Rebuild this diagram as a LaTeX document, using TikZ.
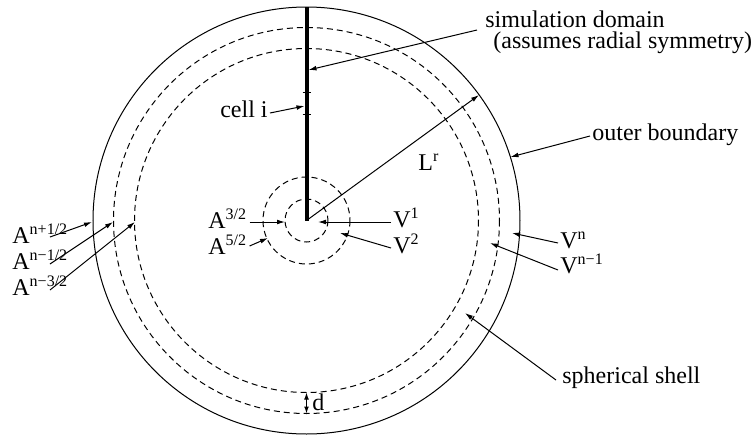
\documentclass[tikz,border=0pt]{standalone}
\usepackage{fontspec}
\setmainfont{Liberation Serif}
\usetikzlibrary{arrows.meta}
\tikzstyle{arrow} = [line width=0.5pt, -{Latex[length=4pt,width=2.4pt]}]
\tikzstyle{dimarrow} = [line width=0.5pt, {Latex[length=3.5pt,width=2.4pt]}-{Latex[length=3.5pt,width=2.4pt]}]
\tikzstyle{shell} = [line width=0.5pt, dash pattern=on 3pt off 2pt]
\tikzstyle{boundary} = [line width=0.5pt]
\tikzstyle{lbl} = [inner sep=0pt, anchor=base west]

\begin{document}
\begin{tikzpicture}[x=0.5pt, y=-0.5pt, font=\fontsize{12}{10.5}\selectfont]
    \useasboundingbox (0,0) rectangle (752,435);
    \coordinate (ctr) at (306.5,220.5);
    \coordinate (top) at (306.5,7);

    % sphere and shells
    \draw [boundary] (ctr) circle [radius=213.5];
    \draw [shell] (ctr) circle [radius=193];
    \draw [shell] (ctr) circle [radius=172];
    \draw [shell] (ctr) circle [radius=43.5];
    \draw [shell] (ctr) circle [radius=21.5];

    % simulation domain with cell marks
    \draw [line width=2pt] (ctr) -- (top);
    \foreach \y in {92,114}
        \draw [boundary] (302.5,\y) -- (310.5,\y);

    % arrow tips
    \coordinate (simtip) at (308.5,70);
    \coordinate (celltip) at (304.5,106);
    \coordinate (Lrtip) at (479,95);
    \coordinate (outertip) at (510.5,157);
    \coordinate (Vntip) at (512,233);
    \coordinate (Vnmtip) at (490,243);
    \coordinate (V1tip) at (318,222);
    \coordinate (V2tip) at (340,233);
    \coordinate (A32tip) at (285,222);
    \coordinate (A52tip) at (268,238);
    \coordinate (Anptip) at (92,222);
    \coordinate (Anmtip) at (113,222);
    \coordinate (Anmmtip) at (135,222);
    \coordinate (shelltip) at (465,313);
    \coordinate (din) at (306.5,392.5);
    \coordinate (dout) at (306.5,413.5);

    % labels
    \node (simtext) [lbl, align=left] at (485,48) {simulation domain\\\hspace*{4pt}(assumes radial symmetry)};
    \node (cell) [lbl, anchor=base east] at (268,117) {cell i};
    \node (Lr) [lbl] at (418,170) {L\textsuperscript{r}};
    \node (outer) [lbl] at (592,140) {outer boundary};
    \node (Vn) [lbl] at (560,248) {V\textsuperscript{n}};
    \node (Vnm) [lbl] at (560,273) {V\textsuperscript{n−1}};
    \node (V1) [lbl] at (393,227) {V\textsuperscript{1}};
    \node (V2) [lbl] at (393,253) {V\textsuperscript{2}};
    \node (A32) [lbl] at (208,228) {A\textsuperscript{3/2}};
    \node (A52) [lbl] at (208,254) {A\textsuperscript{5/2}};
    \node (Anp) [lbl] at (12,243) {A\textsuperscript{n+1/2}};
    \node (Anm) [lbl] at (12,269) {A\textsuperscript{n−1/2}};
    \node (Anmm) [lbl] at (12,295) {A\textsuperscript{n−3/2}};
    \node (shelltext) [lbl] at (562,383) {spherical shell};
    \node (dtext) [lbl] at (312,410) {d};

    % pointers
    \draw [arrow] ([shift={(-8,-18)}]simtext.base west) -- (simtip);
    \draw [arrow] ([shift={(2,-4)}]cell.base east) -- (celltip);
    \draw [arrow] (ctr) -- (Lrtip);
    \draw [arrow] ([shift={(-2,-4)}]outer.base west) -- (outertip);
    \draw [arrow] ([shift={(-2,-5)}]Vn.base west) -- (Vntip);
    \draw [arrow] ([shift={(-2,-3)}]Vnm.base west) -- (Vnmtip);
    \draw [arrow] ([shift={(-2,-5)}]V1.base west) -- (V1tip);
    \draw [arrow] ([shift={(-2,-5)}]V2.base west) -- (V2tip);
    \draw [arrow] ([shift={(2,-6)}]A32.base east) -- (A32tip);
    \draw [arrow] ([shift={(2,-8)}]A52.base east) -- (A52tip);
    \draw [arrow] ([shift={(38,-6)}]Anp.base west) -- (Anptip);
    \draw [arrow] ([shift={(38,-5)}]Anm.base west) -- (Anmtip);
    \draw [arrow] ([shift={(38,-5)}]Anmm.base west) -- (Anmmtip);
    \draw [arrow] ([shift={(-6,-3)}]shelltext.base west) -- (shelltip);
    \draw [dimarrow] (din) -- (dout);
\end{tikzpicture}
\end{document}
